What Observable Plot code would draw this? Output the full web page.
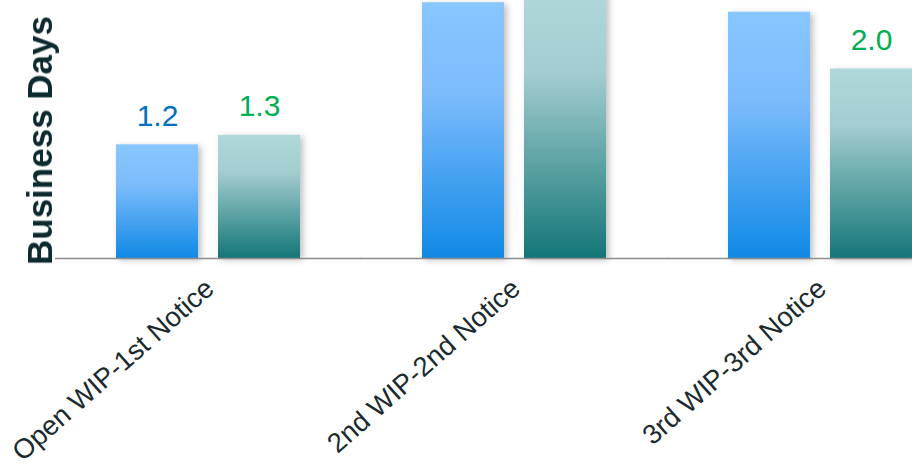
<!DOCTYPE html>
<html><head><meta charset="utf-8">
<script src="https://cdn.jsdelivr.net/npm/d3@7"></script>
<script src="https://cdn.jsdelivr.net/npm/@observablehq/plot@0.6"></script>
<style>
html,body{margin:0;padding:0;background:#fff;overflow:hidden;}
</style></head><body><div id="chart"></div>
<script>
const groups = ["Open WIP-1st Notice", "2nd WIP-2nd Notice", "3rd WIP-3rd Notice"];
const series = ["Series 1", "Series 2"];
const valuesSeries1 = [1.2, 2.7, 2.6];
const valuesSeries2 = [1.3, 2.8, 2.0];
const yTitle = "Business Days";

const data = groups.flatMap((g, i) => [
  {group: g, series: series[0], value: valuesSeries1[i]},
  {group: g, series: series[1], value: valuesSeries2[i]}
]);

const chart = Plot.plot({
  width: 912, height: 467,
  marginTop: 0, marginBottom: 209, marginLeft: 55, marginRight: -3,
  style: {background: "white", fontFamily: "'Liberation Sans', Arial, sans-serif"},
  fx: {domain: groups, range: [115, 915], paddingInner: 0.394, paddingOuter: 0, axis: null},
  x: {domain: series, paddingInner: 0.194, paddingOuter: 0, axis: null},
  y: {domain: [0, 2.724], axis: null},
  color: {domain: series, range: ["#0070C0", "#00B050"]},
  marks: [
    Plot.barY(data, {filter: d => d.series === series[0], fx: "group", x: "series", y: "value", fill: "url(#gradBlue)"}),
    Plot.barY(data, {filter: d => d.series === series[1], fx: "group", x: "series", y: "value", fill: "url(#gradTeal)"}),
    Plot.ruleY([0], {stroke: "#8c8c8c", strokeWidth: 1.5, insetLeft: -61, insetRight: -61}),
    Plot.text(data, {fx: "group", x: "series", y: "value", text: d => d.value.toFixed(1), dy: -19, lineAnchor: "bottom", fill: "series", fontSize: 30}),
    Plot.axisFx({anchor: "bottom", tickSize: 0, tickPadding: 26, dx: 1, tickRotate: -41.5, fontSize: 27.5, label: null, fill: "#1b2a2e"}),
    Plot.text([{group: groups[0], label: yTitle}], {fx: "group", text: "label", frameAnchor: "left", textAnchor: "middle", lineAnchor: "middle", rotate: -90, dx: -75.5, dy: 11, fontSize: 35, fontWeight: "bold", fill: "#0d2b2f"})
  ]
});
document.getElementById("chart").appendChild(chart);

const svg = d3.select(chart.tagName.toLowerCase() === "svg" ? chart : chart.querySelector("svg"));
const defs = svg.insert("defs", ":first-child");
function grad(id, stops) {
  const g = defs.append("linearGradient").attr("id", id).attr("x1", 0).attr("y1", 0).attr("x2", 0).attr("y2", 1);
  stops.forEach(([o, c]) => g.append("stop").attr("offset", o).attr("stop-color", c));
}
grad("gradBlue", [[0, "#88C6FF"], [0.35, "#7DBCFC"], [1, "#1089E5"]]);
grad("gradTeal", [[0, "#B0D8DB"], [0.3, "#A3CDD0"], [1, "#147677"]]);
svg.selectAll("g[aria-label='bar']").style("filter", "drop-shadow(3px 2px 3px rgba(0,0,0,0.25))");
</script></body></html>
